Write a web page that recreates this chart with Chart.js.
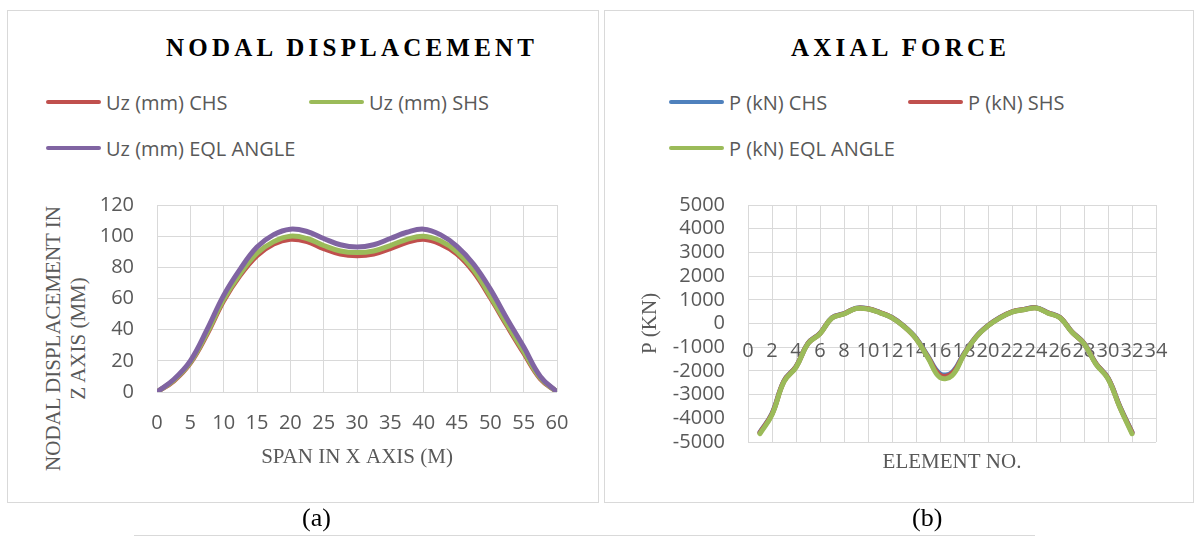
<!DOCTYPE html>
<html>
<head>
<meta charset="utf-8">
<script src="https://cdn.jsdelivr.net/npm/chart.js@4.4.1/dist/chart.umd.min.js"></script>
<style>
  html, body { margin: 0; padding: 0; background: #fff; }
  #page { position: relative; width: 1194px; height: 536px; overflow: hidden; background: #fff; }
  .box { position: absolute; top: 10px; height: 493px; border: 1px solid #d9d9d9; box-sizing: border-box; }
  .title { position: absolute; top: 35px; font: bold 25px "Liberation Serif", "Times New Roman", serif;
           letter-spacing: 4.2px; line-height: 25px; white-space: nowrap; color: #000; }
  .legend-item { position: absolute; height: 30px; display: flex; align-items: center; white-space: nowrap;
                 font: 20px "Open Sans", sans-serif; color: #595959; }
  .legend-item i { display: inline-block; width: 55px; height: 4px; border-radius: 2px; margin-right: 5px; }
  .ytitle { position: absolute; width: 320px; height: 55px; line-height: 27.5px; text-align: center;
            font: 21px "Liberation Serif", serif; color: #595959; transform: rotate(-90deg); }
  .caption { position: absolute; top: 504px; font: 26px "Liberation Serif", serif; color: #000; line-height: 28px; }
  .rule { position: absolute; left: 134px; top: 535px; width: 901px; height: 1px; background: #d9d9d9; }
  canvas { position: absolute; }
</style>
</head>
<body>
<div id="page">
  <div class="box" style="left:7px;width:592px"></div>
  <div class="box" style="left:604px;width:590px"></div>

  <div class="title" style="left:166px">NODAL DISPLACEMENT</div>
  <div class="title" style="left:791px">AXIAL FORCE</div>

  <div class="ytitle" style="left:-92px;top:311px">NODAL DISPLACEMENT IN<br>Z AXIS (MM)</div>

  <canvas id="dispChart" width="600" height="340" style="left:0;top:170px"></canvas>
  <canvas id="forceChart" width="594" height="340" style="left:600px;top:170px"></canvas>

  <div class="caption" style="left:302px">(a)</div>
  <div class="caption" style="left:912px">(b)</div>
  <div class="rule"></div>
</div>

<script>
// Nodal displacement (a)
const spanX = [0, 2.5, 5, 7.5, 10, 12.5, 15, 17.5, 20, 22.5, 25, 27.5, 30, 32.5, 35, 37.5, 40, 42.5, 45, 47.5, 50, 52.5, 55, 57.5, 60];
const uzCHS = [0, 7, 18.5, 37, 58.5, 75, 87.5, 95, 98, 96.5, 92, 88.5, 87.5, 88.5, 92, 96, 98, 95, 88.5, 77, 60.5, 42.5, 25, 8.5, 0];
const uzSHS = [0, 7.5, 19, 38, 59.5, 76, 89, 96.5, 100, 98.5, 94, 90.5, 89.5, 90.5, 94, 98, 100, 97, 90, 78.5, 61.5, 43.5, 26, 9, 0];
const uzEQL = [0, 8, 20, 40, 62, 79, 93, 101, 104.5, 103, 98.5, 94.5, 93, 94.5, 98.5, 102.5, 104.5, 101, 93.5, 82, 66, 47, 29, 10, 0];
const dispXTicks = [0, 5, 10, 15, 20, 25, 30, 35, 40, 45, 50, 55, 60];
const dispYTicks = [0, 20, 40, 60, 80, 100, 120];

// Axial force (b)
const elementNo = [1, 2, 3, 4, 5, 6, 7, 8, 9, 10, 11, 12, 13, 14, 15, 16, 17, 18, 19, 20, 21, 22, 23, 24, 25, 26, 27, 28, 29, 30, 31, 32];
const pCHS = [-4580, -3800, -2420, -1820, -830, -410, 245, 415, 645, 625, 465, 255, -110, -610, -1390, -2120, -2060, -1270, -560, -85, 255, 495, 595, 665, 455, 255, -355, -830, -1690, -2300, -3510, -4580];
const pSHS = [-4600, -3820, -2430, -1830, -840, -420, 240, 410, 640, 620, 460, 250, -120, -630, -1420, -2180, -2110, -1300, -570, -90, 250, 490, 590, 660, 450, 250, -360, -840, -1700, -2310, -3530, -4600];
const pEQL = [-4650, -3850, -2450, -1850, -850, -430, 230, 400, 630, 610, 450, 240, -130, -640, -1450, -2280, -2200, -1320, -580, -100, 240, 480, 580, 650, 440, 240, -370, -850, -1720, -2330, -3560, -4650];
const forceXTicks = [0, 2, 4, 6, 8, 10, 12, 14, 16, 18, 20, 22, 24, 26, 28, 30, 32, 34];
const forceYTicks = [-5000, -4000, -3000, -2000, -1000, 0, 1000, 2000, 3000, 4000, 5000];

// Colors
const red = '#C0504D';
const green = '#9BBB59';
const purple = '#8064A2';
const blue = '#4F81BD';
const gridColor = '#d9d9d9';
const textColor = '#595959';

const tickFont = { family: 'Open Sans', size: 20 };
const titleFont = { family: 'Liberation Serif', size: 21 };

function points(xs, ys) {
  return xs.map((x, i) => ({ x: x, y: ys[i] }));
}

function fixedTicks(values) {
  return function (scale) {
    scale.ticks = values.map(v => ({ value: v }));
  };
}

// html legend laid out like the excel one (two columns)
function buildLegend(chart, slots) {
  const page = document.getElementById('page');
  chart.data.datasets.forEach((ds, i) => {
    const item = document.createElement('div');
    item.className = 'legend-item';
    item.style.left = slots[i][0] + 'px';
    item.style.top = (slots[i][1] - 15) + 'px';
    const line = document.createElement('i');
    line.style.background = ds.borderColor;
    item.appendChild(line);
    item.appendChild(document.createTextNode(ds.label));
    page.appendChild(item);
  });
}

const dispChart = new Chart(document.getElementById('dispChart'), {
  type: 'line',
  data: {
    datasets: [
      { label: 'Uz (mm) CHS', data: points(spanX, uzCHS), borderColor: red, order: 2 },
      { label: 'Uz (mm) SHS', data: points(spanX, uzSHS), borderColor: green, order: 1 },
      { label: 'Uz (mm) EQL ANGLE', data: points(spanX, uzEQL), borderColor: purple, order: 0 }
    ]
  },
  options: {
    responsive: false,
    animation: false,
    elements: {
      point: { radius: 0 },
      line: { borderWidth: 5, tension: 0.4, borderCapStyle: 'round', fill: false }
    },
    layout: { padding: { top: 26, right: 43, left: 0, bottom: 0 } },
    plugins: { legend: { display: false }, tooltip: { enabled: false } },
    scales: {
      x: {
        type: 'linear',
        min: 0,
        max: 60,
        afterBuildTicks: fixedTicks(dispXTicks),
        ticks: { color: textColor, font: tickFont, padding: 19, maxRotation: 0, autoSkip: false },
        grid: { color: gridColor, drawTicks: false },
        border: { display: false },
        title: { display: true, text: 'SPAN IN X AXIS (M)', color: textColor, font: titleFont, padding: { top: 0, bottom: 40 } },
        afterFit: s => { s.height = 118; }
      },
      y: {
        min: 0,
        max: 120,
        afterBuildTicks: fixedTicks(dispYTicks),
        ticks: { color: textColor, font: tickFont, padding: 23, autoSkip: false },
        grid: { color: gridColor, drawTicks: false },
        border: { display: false },
        afterFit: s => { s.width = 157; }
      }
    }
  }
});

const forceChart = new Chart(document.getElementById('forceChart'), {
  type: 'line',
  data: {
    datasets: [
      { label: 'P (kN) CHS', data: points(elementNo, pCHS), borderColor: blue, order: 2 },
      { label: 'P (kN) SHS', data: points(elementNo, pSHS), borderColor: red, order: 1 },
      { label: 'P (kN) EQL ANGLE', data: points(elementNo, pEQL), borderColor: green, order: 0 }
    ]
  },
  options: {
    responsive: false,
    animation: false,
    elements: {
      point: { radius: 0 },
      line: { borderWidth: 5, tension: 0.4, borderCapStyle: 'round', fill: false }
    },
    layout: { padding: { top: 26, right: 38, left: 0, bottom: 0 } },
    plugins: { legend: { display: false }, tooltip: { enabled: false } },
    scales: {
      x: {
        type: 'linear',
        min: 0,
        max: 34,
        afterBuildTicks: fixedTicks(forceXTicks),
        ticks: { display: false },
        grid: { color: gridColor, drawTicks: false },
        border: { display: false },
        title: { display: true, text: 'ELEMENT NO.', color: textColor, font: titleFont, padding: { top: 0, bottom: 35 } },
        afterFit: s => { s.height = 68; }
      },
      // tick labels sit on the zero line, like the excel horizontal axis
      x2: {
        type: 'linear',
        axis: 'x',
        position: { y: 0 },
        min: 0,
        max: 34,
        afterBuildTicks: fixedTicks(forceXTicks),
        ticks: { color: textColor, font: tickFont, padding: 16, maxRotation: 0, autoSkip: false },
        grid: { display: false, drawTicks: false },
        border: { display: false }
      },
      y: {
        min: -5000,
        max: 5000,
        afterBuildTicks: fixedTicks(forceYTicks),
        ticks: { color: textColor, font: tickFont, padding: 23, autoSkip: false, callback: v => String(v) },
        grid: { color: gridColor, drawTicks: false },
        border: { display: false },
        title: { display: true, text: 'P (KN)', color: textColor, font: titleFont, padding: { top: 38, bottom: 0 } },
        afterFit: s => { s.width = 148; }
      }
    }
  }
});

buildLegend(dispChart, [[46, 102], [309, 102], [46, 148]]);
buildLegend(forceChart, [[669, 102], [908, 102], [669, 148]]);
</script>
</body>
</html>
